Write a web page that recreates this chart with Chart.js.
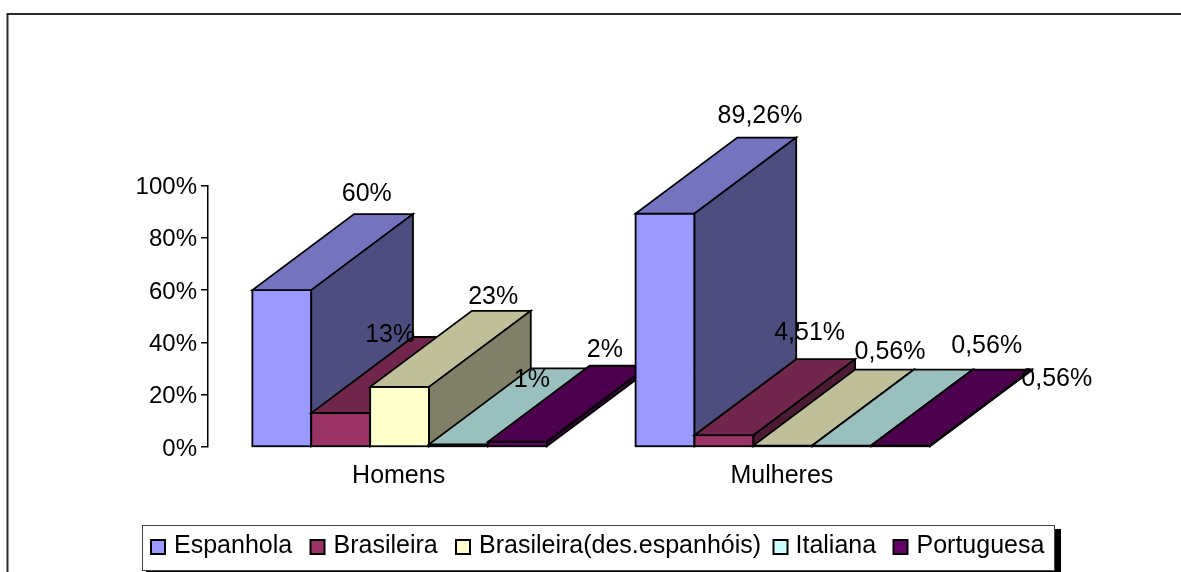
<!DOCTYPE html>
<html>
<head>
<meta charset="utf-8">
<style>html,body{margin:0;padding:0;background:#fff}canvas{display:block}</style>
<script src="https://cdn.jsdelivr.net/npm/chart.js@4"></script>
</head>
<body>
<canvas id="c" width="1181" height="572"></canvas>
<script>
const categories = ['Homens', 'Mulheres'];
const seriesNames = ['Espanhola', 'Brasileira', 'Brasileira(des.espanhóis)', 'Italiana', 'Portuguesa'];
const espanhola = [60, 89.26];
const brasileira = [13, 4.51];
const brasDescendentes = [23, 0.56];
const italiana = [1, 0.56];
const portuguesa = [2, 0.56];
const seriesValues = [espanhola, brasileira, brasDescendentes, italiana, portuguesa];
const valueLabels = [['60%', '89,26%'], ['13%', '4,51%'], ['23%', '0,56%'], ['1%', '0,56%'], ['2%', '0,56%']];
const yTicks = [0, 20, 40, 60, 80, 100];

const frontColors = ['#9999FF', '#993366', '#FFFFCC', '#CCFFFF', '#660066'];
const topColors = ['#7373BF', '#73264D', '#BFBF99', '#99BFBF', '#4D004D'];
const sideColors = ['#4D4D80', '#4D1A33', '#808066', '#668080', '#330033'];

// layout only
const DEPTH_X = 101.7, DEPTH_Y = -76;
const FAMILY = '"Liberation Sans", Arial, sans-serif';
const FONT = '25px ' + FAMILY;
const labelOffsets = [
  [[85, -95.5], [94.9, -97.9]],
  [[49.5, -77.5], [85.6, -102.2]],
  [[93.6, -89.5], [107.1, -93.5]],
  [[73.3, -64.4], [144.9, -99.5]],
  [[87.4, -91.8], [156.1, -66.5]]
];
const legendBoxX = [151, 310.5, 456, 773.5, 893.5];
const legendTextX = [174, 333.5, 479, 795.5, 916.5];

function poly(ctx, pts, fill) {
  ctx.beginPath();
  pts.forEach((p, i) => i ? ctx.lineTo(p[0], p[1]) : ctx.moveTo(p[0], p[1]));
  ctx.closePath();
  ctx.fillStyle = fill;
  ctx.fill();
  ctx.stroke();
}

const bars3d = {
  id: 'bars3d',
  afterDatasetsDraw(chart) {
    const ctx = chart.ctx;
    // painted group by group, series left to right, so each later bar overlaps the earlier depth
    categories.forEach((_, j) => {
      seriesNames.forEach((__, i) => {
        const el = chart.getDatasetMeta(i).data[j];
        el.draw(ctx);
        const p = el.getProps(['x', 'y', 'width', 'base'], true);
        const x0 = p.x - p.width / 2, x1 = p.x + p.width / 2, yt = p.y, yb = p.base;
        ctx.save();
        ctx.strokeStyle = '#000';
        ctx.lineWidth = 1.8;
        ctx.lineJoin = 'miter';
        ctx.strokeRect(x0, yt, x1 - x0, yb - yt);
        poly(ctx, [[x0, yt], [x1, yt], [x1 + DEPTH_X, yt + DEPTH_Y], [x0 + DEPTH_X, yt + DEPTH_Y]], topColors[i]);
        poly(ctx, [[x1, yt], [x1, yb], [x1 + DEPTH_X, yb + DEPTH_Y], [x1 + DEPTH_X, yt + DEPTH_Y]], sideColors[i]);
        ctx.restore();
      });
    });
    ctx.save();
    ctx.font = FONT;
    ctx.fillStyle = '#000';
    ctx.textAlign = 'center';
    ctx.textBaseline = 'middle';
    seriesNames.forEach((_, i) => {
      chart.getDatasetMeta(i).data.forEach((el, j) => {
        const p = el.getProps(['x', 'y'], true);
        ctx.fillText(valueLabels[i][j], p.x + labelOffsets[i][j][0], p.y + labelOffsets[i][j][1]);
      });
    });
    ctx.restore();
  }
};

const frameAndLegend = {
  id: 'frameAndLegend',
  beforeDraw(chart) {
    const ctx = chart.ctx;
    ctx.save();
    ctx.fillStyle = '#fff';
    ctx.fillRect(0, 0, 1181, 572);
    ctx.strokeStyle = '#2a2a2a';
    ctx.lineWidth = 2;
    ctx.beginPath();
    ctx.moveTo(7.5, 572);
    ctx.lineTo(7.5, 14);
    ctx.lineTo(1181, 14);
    ctx.stroke();
    ctx.restore();
  },
  afterDraw(chart) {
    const ctx = chart.ctx;
    ctx.save();
    ctx.fillStyle = '#000';
    ctx.fillRect(146, 529, 915, 43);
    ctx.fillStyle = '#fff';
    ctx.fillRect(142, 525, 912, 45);
    ctx.strokeStyle = '#444';
    ctx.lineWidth = 1;
    ctx.strokeRect(142.5, 525.5, 912, 45);
    ctx.font = FONT;
    ctx.textBaseline = 'middle';
    seriesNames.forEach((name, i) => {
      ctx.fillStyle = frontColors[i];
      ctx.strokeStyle = '#000';
      ctx.lineWidth = 2;
      ctx.fillRect(legendBoxX[i], 540, 14, 14);
      ctx.strokeRect(legendBoxX[i], 540, 14, 14);
      ctx.fillStyle = '#000';
      ctx.fillText(name, legendTextX[i], 546);
    });
    ctx.restore();
  }
};

new Chart(document.getElementById('c'), {
  type: 'bar',
  data: {
    labels: categories,
    datasets: seriesNames.map((name, i) => ({
      label: name,
      data: seriesValues[i],
      backgroundColor: frontColors[i],
      borderWidth: 0,
      categoryPercentage: 0.7685,
      barPercentage: 1
    }))
  },
  options: {
    responsive: false,
    animation: false,
    layout: { padding: { left: 0, right: 206.5, top: 185.5, bottom: 75 } },
    plugins: { legend: { display: false }, tooltip: { enabled: false } },
    scales: {
      x: {
        afterFit(s) { s.height = 50; },
        grid: { display: false },
        border: { display: false },
        ticks: { color: '#000', font: { family: FAMILY, size: 25 }, padding: 6, labelOffset: -1, maxRotation: 0 }
      },
      y: {
        min: 0,
        max: 100,
        afterFit(s) { s.width = 208; },
        afterBuildTicks(s) { s.ticks = yTicks.map(v => ({ value: v })); },
        grid: { drawOnChartArea: false, color: '#000', tickLength: 7, lineWidth: 1.5 },
        border: { color: '#000', width: 1.5 },
        ticks: { color: '#000', font: { family: FAMILY, size: 24 }, padding: 4, labelOffset: 2, callback: v => v + '%' }
      }
    }
  },
  plugins: [bars3d, frameAndLegend]
});
</script>
</body>
</html>
